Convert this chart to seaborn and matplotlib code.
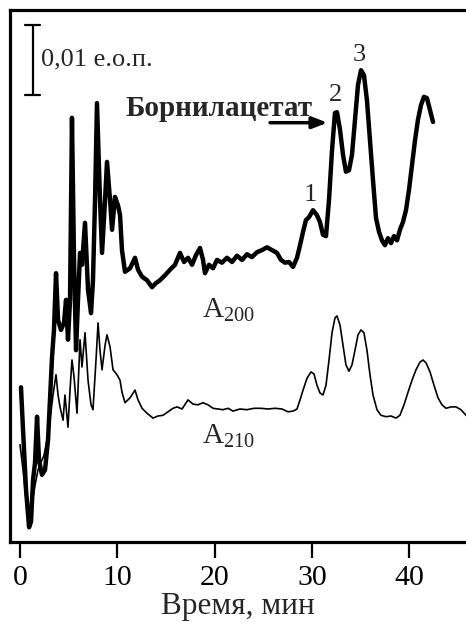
import numpy as np
import pandas as pd
import matplotlib
matplotlib.use("Agg")
import matplotlib.pyplot as plt
import seaborn as sns

# ---- data (time in min, absorbance in mAU) ----
t200 = [0.10, 0.31, 0.62, 0.93, 1.13, 1.34, 1.54, 1.75, 1.95, 2.26, 2.57, 2.88, 3.08, 3.29, 3.49,
        3.70, 3.91, 4.21, 4.52, 4.73, 4.93, 5.14, 5.34, 5.55, 5.76, 5.96, 6.17, 6.37, 6.68, 6.99,
        7.30, 7.50, 7.71, 7.91, 8.22, 8.43, 8.74, 8.94, 9.25, 9.46, 9.76, 10.07, 10.28, 10.48,
        10.79, 11.31, 11.82, 12.13, 12.54, 13.05, 13.57, 13.98, 14.39, 14.90, 15.42, 15.93, 16.44,
        16.86, 17.27, 17.68, 18.09, 18.50, 18.81, 19.01, 19.42, 19.84, 20.25, 20.76, 21.27, 21.79,
        22.30, 22.82, 23.33, 23.84, 24.36, 24.87, 25.39, 25.90, 26.41, 26.82, 27.24, 27.65, 28.06,
        28.47, 28.78, 29.09, 29.39, 29.70, 30.11, 30.52, 30.83, 31.14, 31.45, 31.76, 32.07, 32.37,
        32.58, 32.89, 33.20, 33.50, 33.81, 34.12, 34.43, 34.74, 35.05, 35.35, 35.66, 35.97, 36.28,
        36.59, 36.90, 37.20, 37.51, 37.82, 38.13, 38.44, 38.75, 39.05, 39.36, 39.67, 39.98, 40.29,
        40.60, 40.90, 41.21, 41.52, 41.83, 42.14, 42.45]
a200 = [22.1, 16.0, 7.4, 2.1, 2.9, 8.9, 11.3, 17.9, 11.7, 9.6, 10.3, 14.6, 20.3, 26.4, 30.3,
        38.4, 31.7, 30.3, 31.3, 34.6, 28.9, 34.6, 60.6, 40.3, 27.4, 34.6, 41.3, 39.6, 45.6, 36.0,
        32.7, 37.4, 48.9, 62.7, 48.9, 41.3, 48.9, 54.3, 48.9, 44.6, 49.3, 48.1, 46.7, 41.7,
        38.6, 39.1, 40.6, 38.9, 37.9, 37.4, 36.4, 37.0, 37.4, 38.1, 38.9, 39.6, 41.3,
        40.0, 40.6, 39.6, 41.0, 42.0, 40.3, 38.4, 39.6, 39.1, 40.3, 39.9, 40.6, 40.0,
        40.9, 40.3, 41.1, 40.7, 41.4, 41.7, 42.1, 41.7, 41.3, 40.3, 39.9, 40.0, 39.3,
        40.6, 42.4, 44.3, 46.0, 46.4, 47.4, 46.7, 45.7, 43.9, 43.7, 48.9, 56.0, 61.3,
        61.4, 58.9, 55.3, 52.9, 53.1, 55.3, 60.3, 65.3, 67.4, 66.7, 63.1, 57.4, 51.7,
        46.3, 44.3, 43.1, 42.4, 43.4, 42.7, 43.7, 43.1, 44.6, 45.7, 47.4, 50.3, 53.9,
        57.4, 60.3, 62.4, 63.6, 63.4, 61.7, 60.0]

t210 = [0.00, 0.31, 0.62, 0.93, 1.23, 1.54, 1.85, 2.16, 2.47, 2.77, 3.08, 3.39, 3.70, 3.91, 4.11,
        4.42, 4.62, 4.93, 5.14, 5.34, 5.55, 5.86, 6.17, 6.37, 6.68, 6.99, 7.30, 7.50, 7.81, 8.02,
        8.22, 8.43, 8.74, 8.94, 9.25, 9.56, 9.97, 10.28, 10.48, 10.79, 11.31, 11.82, 12.13, 12.54,
        13.05, 13.67, 14.18, 14.70, 15.21, 15.72, 16.14, 16.65, 17.27, 17.78, 18.29, 18.81, 19.32,
        19.84, 20.35, 20.86, 21.38, 21.89, 22.61, 23.33, 24.05, 24.77, 25.49, 26.21, 26.93, 27.54,
        28.06, 28.47, 28.78, 29.09, 29.50, 29.91, 30.22, 30.52, 30.83, 31.14, 31.45, 31.76, 32.07,
        32.37, 32.58, 32.89, 33.20, 33.50, 33.81, 34.12, 34.43, 34.74, 35.05, 35.35, 35.66, 35.97,
        36.28, 36.69, 37.10, 37.62, 38.13, 38.64, 39.05, 39.47, 39.88, 40.29, 40.70, 41.11, 41.42,
        41.73, 42.14, 42.55, 42.96, 43.37, 43.78, 44.30, 44.81, 45.32, 45.84, 46.25]
a210 = [13.9, 10.3, 6.0, 3.4, 5.3, 8.1, 10.3, 11.4, 12.4, 14.6, 17.4, 21.0, 23.9, 21.0, 19.3,
        17.4, 21.0, 16.4, 21.7, 26.0, 23.6, 18.4, 28.9, 25.0, 29.9, 23.1, 19.6, 18.9, 26.0, 31.3,
        27.4, 24.6, 28.1, 29.6, 27.9, 24.6, 23.9, 23.1, 21.4, 19.9, 20.6, 21.7, 20.3, 19.1,
        18.4, 17.7, 18.0, 18.1, 18.6, 19.1, 19.3, 19.0, 20.3, 19.7, 19.6, 19.9, 19.6,
        19.1, 19.0, 18.9, 19.1, 18.7, 19.0, 18.9, 19.1, 19.1, 19.0, 19.1, 19.0, 18.6,
        18.7, 19.0, 20.3, 21.7, 23.4, 24.3, 24.0, 22.4, 21.3, 21.0, 22.4, 26.0, 29.9,
        32.0, 32.3, 31.0, 28.1, 25.3, 24.4, 25.3, 27.4, 29.6, 30.3, 29.9, 27.4, 23.9,
        21.0, 18.9, 18.1, 17.9, 18.0, 17.7, 18.1, 19.6, 21.4, 23.1, 24.6, 25.7, 26.0,
        25.6, 24.3, 22.4, 20.6, 19.6, 19.1, 19.3, 19.3, 18.9, 18.1, 17.7]

xticks = [0, 10, 20, 30, 40]
peak_labels = ["1", "2", "3"]
peak_t = [29.8, 32.4, 34.9]
peak_y = [49.6, 63.9, 69.6]
scale_value = 10.0  # mAU, i.e. 0,01 е.о.п.

df200 = pd.DataFrame({"t": t200, "a": a200})
df210 = pd.DataFrame({"t": t210, "a": a210})

sns.set_style("white")
plt.rcParams["font.family"] = ["Liberation Serif", "DejaVu Serif"]
plt.rcParams["mathtext.fontset"] = "custom"
plt.rcParams["mathtext.rm"] = "Liberation Serif"

fig = plt.figure(figsize=(4.66, 6.27), dpi=100)
ax = fig.add_axes([10 / 466, 85 / 627, 456 / 466, 532 / 627])

sns.lineplot(data=df200, x="t", y="a", ax=ax, color="black", linewidth=3.2,
             estimator=None, sort=False)
sns.lineplot(data=df210, x="t", y="a", ax=ax, color="black", linewidth=1.2,
             estimator=None, sort=False)

ax.set_xlim(-1.03, 45.84)
ax.set_ylim(0, 76.0)
ax.set_xticks(xticks)
ax.set_xticklabels([str(v) for v in xticks], fontsize=21.5)
ax.set_yticks([])
ax.set_ylabel("")
ax.set_xlabel("Время, мин", fontsize=22.5, labelpad=1)
ax.tick_params(axis="x", direction="out", length=11.5, width=1.6, pad=5,
               bottom=True, colors="black")
for side in ["left", "top", "bottom"]:
    ax.spines[side].set_linewidth(2.3)
    ax.spines[side].set_color("black")
ax.spines["right"].set_visible(False)

# peak numbers
for lab, px, py in zip(peak_labels, peak_t, peak_y):
    ax.text(px, py, lab, fontsize=19, ha="center", va="center")

# trace labels
ax.text(18.7, 32.1, r"A$_{\mathrm{200}}$", fontsize=21, ha="left", va="baseline")
ax.text(18.7, 14.1, r"A$_{\mathrm{210}}$", fontsize=21, ha="left", va="baseline")

# compound label with arrow
ax.text(10.8, 60.9, "Борнилацетат", fontsize=21, fontweight="bold", ha="left", va="baseline")
ax.annotate("", xy=(31.6, 59.9), xytext=(25.7, 59.9),
            arrowprops=dict(arrowstyle="-|>,head_length=0.9,head_width=0.35",
                            color="black", lw=2.5, shrinkA=0, shrinkB=0))

# scale bar 0,01 е.о.п.
sb_x, sb_top = 1.34, 73.9
ax.plot([sb_x, sb_x], [sb_top - scale_value, sb_top], color="black", lw=1.6)
ax.plot([0.51, 2.06], [sb_top, sb_top], color="black", lw=1.6)
ax.plot([0.51, 2.06], [sb_top - scale_value, sb_top - scale_value], color="black", lw=1.6)
ax.text(2.2, sb_top - scale_value / 2, "0,01 е.о.п.", fontsize=19, ha="left", va="center")

fig.savefig("out.png", dpi=100)
